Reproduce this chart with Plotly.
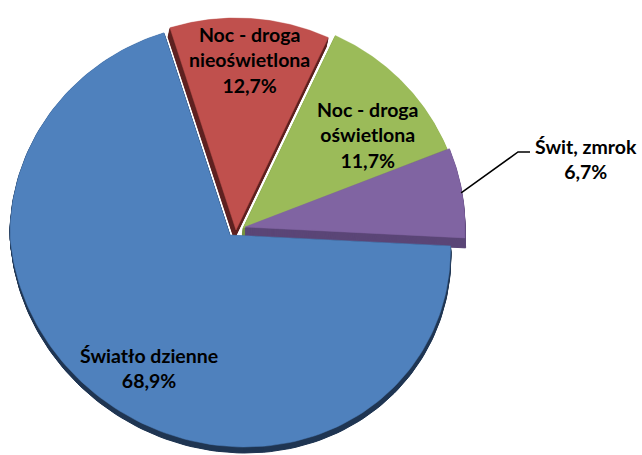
import numpy as np
import plotly.graph_objects as go

# Lighting conditions share of road accidents (percent)
labels = ["Noc - droga<br>nieoświetlona", "Noc - droga<br>oświetlona", "Świt, zmrok", "Światło dzienne"]
values = [12.7, 11.7, 6.7, 68.9]
top_colors = ["#C0504D", "#9BBB59", "#8064A2", "#4F81BD"]
side_colors = ["#5E2120", "#76923F", "#5B4677", "#1F3552"]

W, H = 642, 455
CX, CY = 241, 228          # shared pie centre (pixels)
RX, RY = 220, 212          # tilted (elliptical) radii
START = -19.0              # first slice starts this many degrees from 12 o'clock
PERSP = 0.1                # far side of the disc looks narrower
SHEAR = 0.07               # slight lean of the near (lower) half
# explode offsets for each slice (pixels)
offsets = [(-5, 2), (2, 0), (4, -1), (-11, 7)]
# screen offset of each slice's underside (disc thickness)
extrude = [(-2, 9), (-1, 9), (0, 10), (0, 6)]


def pct(v):
    return f"{v:.1f}".replace(".", ",") + "%"


def rim_param(theta_deg):
    """Angle on the ellipse that matches a slice boundary seen in perspective."""
    th = np.radians(theta_deg)
    s = 1.0 / (1.0 + PERSP * np.cos(th))
    return np.arctan2(np.sin(th) * s, np.cos(th))


def to_screen(xs, ys):
    xs = np.asarray(xs, float)
    ys = np.asarray(ys, float)
    return xs + SHEAR * np.clip(ys - 235, 0, None), ys


def wedge(cx, cy, a0, a1, n=160):
    t = rim_param(np.linspace(a0, a1, n))
    xs = np.concatenate([[cx], cx + RX * np.sin(t), [cx]])
    ys = np.concatenate([[cy], cy - RY * np.cos(t), [cy]])
    return to_screen(xs, ys)


fig = go.Figure()

total = sum(values)
angles = []
a = START
for v in values:
    span = v / total * 360.0
    angles.append((a, a + span))
    a += span

# underside of the disc: stacked shifted copies drawn beneath the top faces
for (a0, a1), (dx, dy), (ex, ey), col in zip(angles, offsets, extrude, side_colors):
    xs_all, ys_all = [], []
    for f in np.linspace(0.1, 1.0, 10):
        xs, ys = wedge(CX + dx + ex * f, CY + dy + ey * f, a0, a1)
        xs_all += list(xs) + [None]
        ys_all += list(ys) + [None]
    fig.add_trace(go.Scatter(x=xs_all, y=ys_all, mode="lines", fill="toself",
                             fillcolor=col, line=dict(color=col, width=1),
                             hoverinfo="skip", showlegend=False))

# top faces (the large slice first so the smaller ones sit over it)
for i in [3, 0, 1, 2]:
    (a0, a1), (dx, dy) = angles[i], offsets[i]
    xs, ys = wedge(CX + dx, CY + dy, a0, a1)
    fig.add_trace(go.Scatter(x=xs, y=ys, mode="lines", fill="toself",
                             fillcolor=top_colors[i], line=dict(color=top_colors[i], width=0.5),
                             hoverinfo="skip", showlegend=False))

# leader line for the small slice
a0, a1 = angles[2]
mid = rim_param((a0 + a1) / 2)
lx, ly = to_screen([CX + offsets[2][0] + RX * np.sin(mid)],
                   [CY + offsets[2][1] - RY * np.cos(mid)])
fig.add_trace(go.Scatter(x=[lx[0] - 1, 518, 530], y=[ly[0], 152, 152], mode="lines",
                         line=dict(color="black", width=1.5),
                         hoverinfo="skip", showlegend=False))

label_pos = [(249, 60), (367, 135), (586, 159), (149, 368)]
for lab, v, (x, y) in zip(labels, values, label_pos):
    fig.add_annotation(x=x, y=y, xref="x", yref="y", text=f"{lab}<br>{pct(v)}",
                       showarrow=False, align="center",
                       font=dict(family="Lato", size=19.5, color="black", weight="bold"))

fig.update_layout(
    width=W, height=H, margin=dict(l=0, r=0, t=0, b=0),
    paper_bgcolor="white", plot_bgcolor="white",
    xaxis=dict(range=[0, W], visible=False, fixedrange=True),
    yaxis=dict(range=[H, 0], visible=False, fixedrange=True),
    showlegend=False,
)

fig.write_html("out.html")
